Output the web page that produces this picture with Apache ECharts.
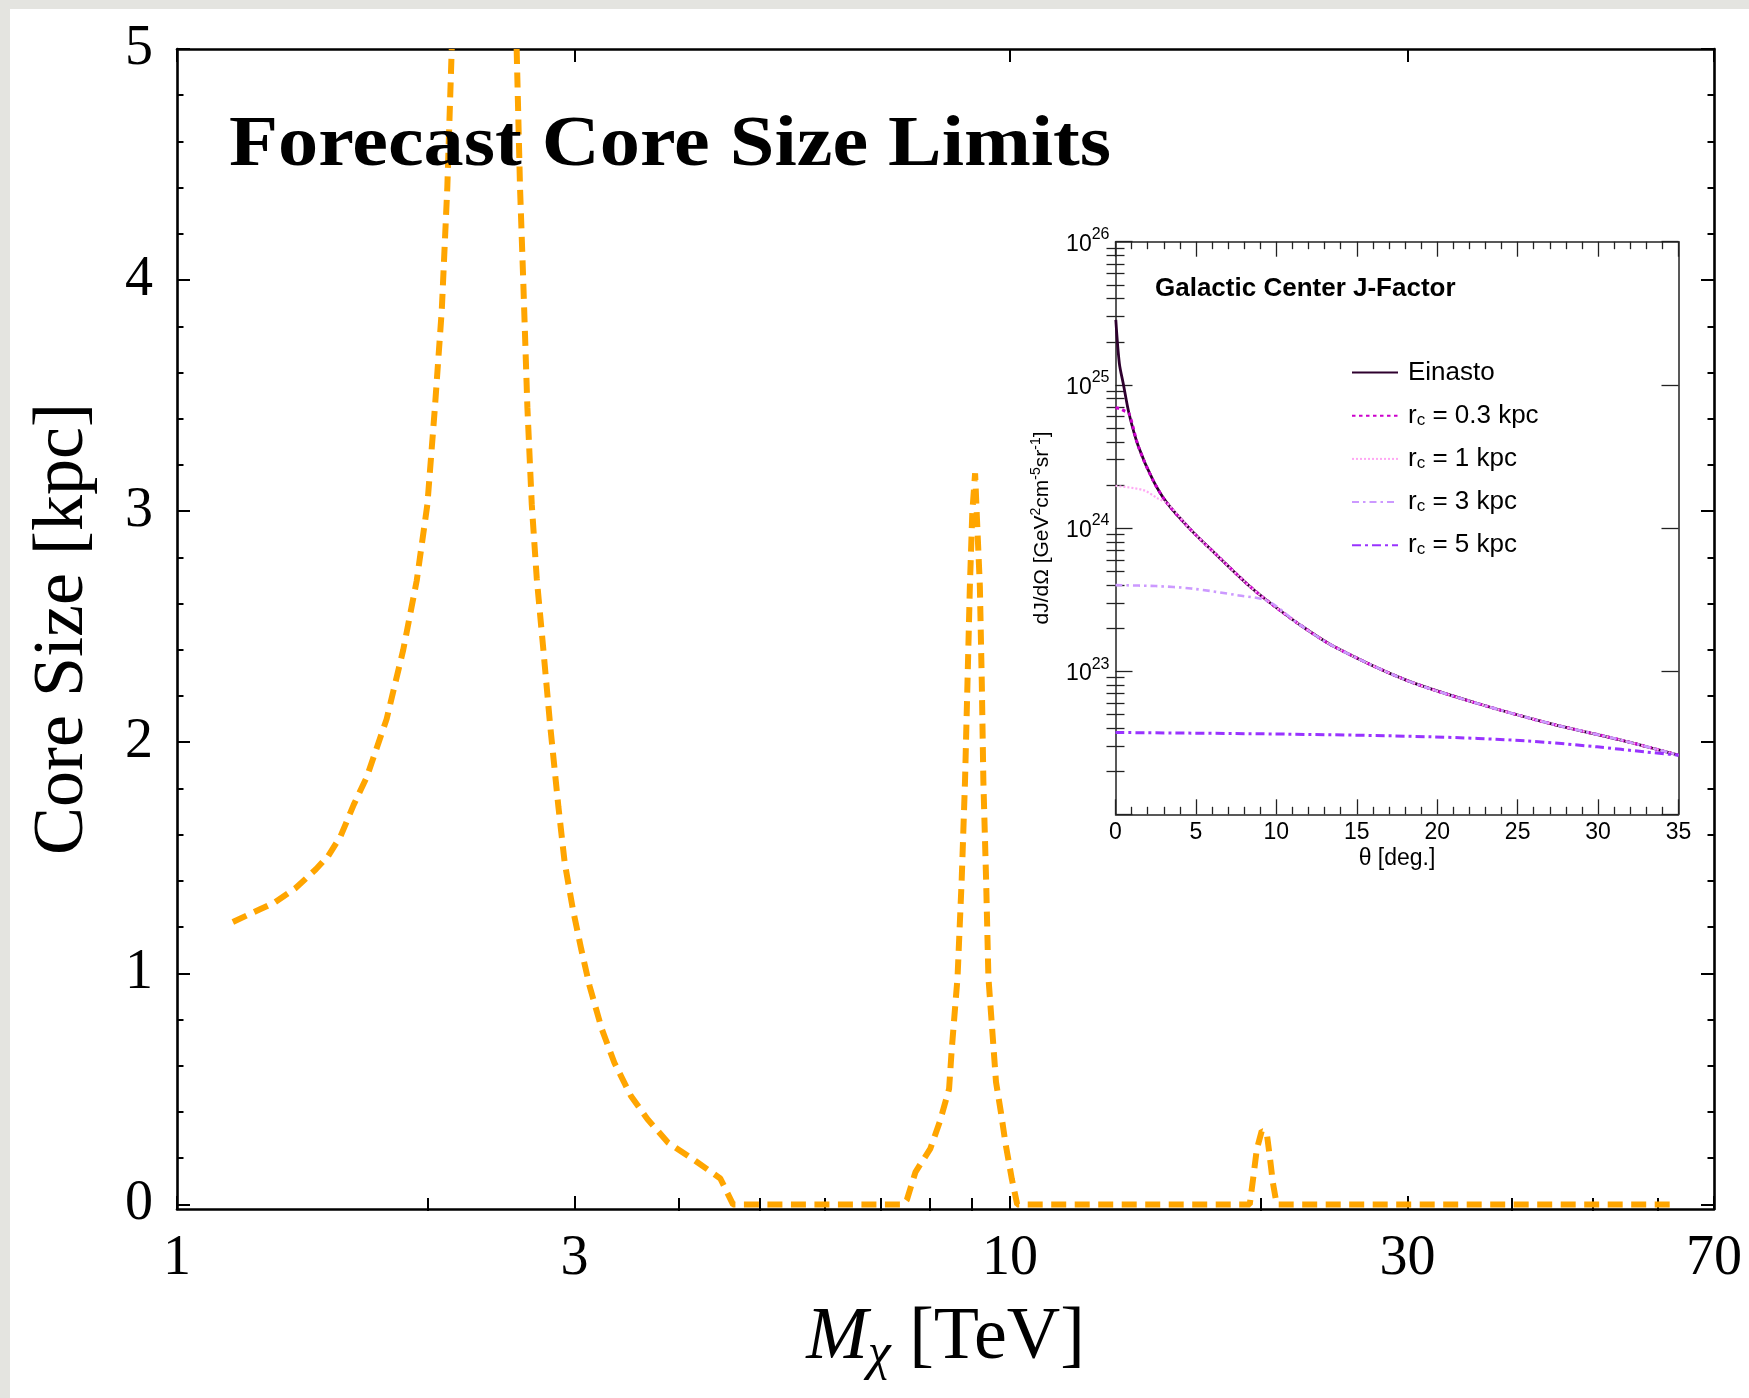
<!DOCTYPE html>
<html><head><meta charset="utf-8">
<script src="https://cdn.jsdelivr.net/npm/echarts@6/dist/echarts.min.js"></script>
<style>html,body{margin:0;padding:0;background:#e4e4e0}#c{width:1749px;height:1398px}</style>
</head><body><div id="c"></div>
<script>
// ---------- main panel: forecast core size limit ----------
const massTeV = [1.167, 1.258, 1.309, 1.386, 1.468, 1.519, 1.572, 1.63, 1.69, 1.785, 1.869, 1.940, 1.998, 2.040, 2.079, 2.111, 2.137, 2.35,
  2.557, 2.581, 2.605, 2.634, 2.666, 2.703, 2.753, 2.804, 2.870, 2.920, 2.987, 3.057, 3.128, 3.236, 3.35, 3.507, 3.672, 3.887, 4.165, 4.49, 4.65,
  7.45, 7.52, 7.70, 8.02, 8.24, 8.45, 8.51, 8.65, 8.75, 8.83, 8.89, 8.95, 9.01, 9.08, 9.12, 9.20, 9.25, 9.29, 9.36, 9.42, 9.62, 9.75, 9.88, 10.05, 10.2,
  19.4, 19.6, 19.78, 20.05, 20.33, 20.5, 20.68, 20.9, 63];
const coreSizeKpc = [1.222, 1.277, 1.306, 1.367, 1.45, 1.508, 1.594, 1.73, 1.85, 2.10, 2.40, 2.70, 3.03, 3.45, 3.87, 4.40, 5.0, '-',
  5.0, 4.40, 3.98, 3.45, 3.03, 2.71, 2.40, 2.08, 1.72, 1.479, 1.277, 1.104, 0.945, 0.758, 0.613, 0.469, 0.368, 0.267, 0.195, 0.112, 0,
  0, 0.02, 0.14, 0.24, 0.36, 0.50, 0.666, 0.983, 1.407, 1.83, 2.253, 2.677, 2.994, 3.164, 2.994, 2.677, 2.253, 1.83, 1.407, 0.983, 0.53, 0.40, 0.26, 0.11, 0,
  0, 0.123, 0.238, 0.317, 0.31, 0.209, 0.094, 0, 0];
const xTickLabels = [1, 3, 10, 30, 70];
const xMajorTicks = [1, 3, 10, 30, 70];
const xMinorTicks = [2, 4, 5, 6, 7, 8, 9, 20, 40, 50, 60];
const yTickLabels = [0, 1, 2, 3, 4, 5];
const yMinorTicks = [0.2, 0.4, 0.6, 0.8, 1.2, 1.4, 1.6, 1.8, 2.2, 2.4, 2.6, 2.8, 3.2, 3.4, 3.6, 3.8, 4.2, 4.4, 4.6, 4.8];

// ---------- inset: Galactic Center J-factor ----------
const thetaEinasto = [0.02, 0.24, 0.49, 0.84, 1.43, 2.33, 3.21, 4.70, 6.19, 8.27, 9.46, 11.38, 13.61, 18.07, 22.52, 26.97, 31.43, 35];
const jEinasto = [2.84e25, 1.41e25, 1.01e25, 6.31e24, 3.69e24, 2.16e24, 1.49e24, 9.66e23, 6.64e23, 3.98e23, 3.09e23, 2.14e23, 1.48e23, 8.65e22, 5.94e22, 4.32e22, 3.30e22, 2.59e22];
const thetaRc03 = [0, 0.3, 0.58, 0.84, 1.43, 2.33, 3.21, 4.70, 6.19, 8.27, 9.46, 11.38, 13.61, 18.07, 22.52, 26.97, 31.43, 35];
const jRc03 = [6.92e24, 6.80e24, 6.56e24, 6.31e24, 3.69e24, 2.16e24, 1.49e24, 9.66e23, 6.64e23, 3.98e23, 3.09e23, 2.14e23, 1.48e23, 8.65e22, 5.94e22, 4.32e22, 3.30e22, 2.59e22];
const thetaRc1 = [0, 1.73, 2.62, 3.21, 4.70, 6.19, 8.27, 9.46, 11.38, 13.61, 18.07, 22.52, 26.97, 31.43, 35];
const jRc1 = [1.97e24, 1.84e24, 1.61e24, 1.49e24, 9.66e23, 6.64e23, 3.98e23, 3.09e23, 2.14e23, 1.48e23, 8.65e22, 5.94e22, 4.32e22, 3.30e22, 2.59e22];
const thetaRc3 = [0, 2.5, 4.70, 7.67, 9.46, 11.38, 13.61, 18.07, 22.52, 26.97, 31.43, 35];
const jRc3 = [3.99e23, 3.93e23, 3.78e23, 3.38e23, 3.09e23, 2.14e23, 1.48e23, 8.65e22, 5.94e22, 4.32e22, 3.30e22, 2.59e22];
const thetaRc5 = [0, 10.64, 19.55, 25.5, 29.94, 32.9, 35];
const jRc5 = [3.73e22, 3.63e22, 3.48e22, 3.26e22, 2.96e22, 2.73e22, 2.59e22];
const insetYLabels = [1e23, 1e24, 1e25, 1e26];
const insetYMajor = [1e22, 1e23, 1e24, 1e25, 1e26];
const insetYMinor = [2e22, 3e22, 4e22, 5e22, 6e22, 7e22, 8e22, 9e22, 2e23, 3e23, 4e23, 5e23, 6e23, 7e23, 8e23, 9e23,
  2e24, 3e24, 4e24, 5e24, 6e24, 7e24, 8e24, 9e24, 2e25, 3e25, 4e25, 5e25, 6e25, 7e25, 8e25, 9e25];

const pairs = (xs, ys) => xs.map((x, i) => [x, ys[i]]);

const SERIF = 'Liberation Serif';
const SANS = 'Liberation Sans';
const mainLine = { show: true, onZero: false, lineStyle: { color: '#000', width: 2.6 } };
const mainTickStyle = { color: '#000', width: 2 };
const insLine = { show: true, onZero: false, lineStyle: { color: '#222', width: 1.5 } };
const insTickStyle = { color: '#222', width: 1.3 };
const off = { show: false };

function mainX(pos, ticks, len, labels, extra) {
  return Object.assign({
    type: 'log', logBase: 10, gridIndex: 0, min: 1, max: 70, position: pos,
    axisLine: labels !== null && len > 8 ? mainLine : off,
    axisTick: { show: true, inside: true, length: len, customValues: ticks, lineStyle: mainTickStyle },
    axisLabel: labels ? { show: true, customValues: labels, formatter: v => String(v), fontFamily: SERIF, fontSize: 56, color: '#000', margin: 22 } : off,
    splitLine: off, minorTick: off
  }, extra || {});
}
function mainY(pos, ticks, len, labels, extra) {
  return Object.assign({
    type: 'value', gridIndex: 0, min: -0.02, max: 5, position: pos,
    axisLine: len > 8 ? mainLine : off,
    axisTick: { show: true, inside: true, length: len, customValues: ticks, lineStyle: mainTickStyle },
    axisLabel: labels ? { show: true, customValues: labels, formatter: v => String(v), fontFamily: SERIF, fontSize: 56, color: '#000', margin: 24 } : off,
    splitLine: off
  }, extra || {});
}
function insX(pos, labels, extra) {
  return Object.assign({
    type: 'value', gridIndex: 1, min: 0, max: 35, interval: 5, position: pos,
    axisLine: insLine,
    axisTick: { show: true, inside: true, length: 15, lineStyle: insTickStyle },
    minorTick: { show: true, splitNumber: 5, length: 7.5, lineStyle: insTickStyle },
    axisLabel: labels ? { show: true, fontFamily: SANS, fontSize: 23, color: '#000', margin: 7 } : off,
    splitLine: off
  }, extra || {});
}
function insY(pos, ticks, len, labels, extra) {
  return Object.assign({
    type: 'log', logBase: 10, gridIndex: 1, min: 0.99999e22, max: 1.00001e26, position: pos,
    axisLine: len > 10 ? insLine : off,
    axisTick: { show: true, inside: true, length: len, customValues: ticks, lineStyle: insTickStyle },
    axisLabel: labels ? {
      show: true, customValues: labels, margin: 6, color: '#000',
      formatter: v => '{b|10}{s|' + Math.round(Math.log10(v)) + '}',
      rich: {
        b: { fontFamily: SANS, fontSize: 23, lineHeight: 30, color: '#000', padding: [5, 0, 0, 0] },
        s: { fontFamily: SANS, fontSize: 16, lineHeight: 16, verticalAlign: 'top', color: '#000' }
      }
    } : off,
    splitLine: off, minorTick: off
  }, extra || {});
}

const chart = echarts.init(document.getElementById('c'), null, { renderer: 'canvas' });
const legendNames = ['Einasto', 'r_c = 0.3 kpc', 'r_c = 1 kpc', 'r_c = 3 kpc', 'r_c = 5 kpc'];
const insetSeries = (name, xs, ys, color, width, type) => ({
  name, type: 'line', xAxisIndex: 4, yAxisIndex: 4, data: pairs(xs, ys),
  symbol: 'none', showSymbol: false, smooth: 0.3, clip: true, z: 5,
  lineStyle: { color, width, type, cap: 'butt' }, itemStyle: { color }
});

chart.setOption({
  animation: false,
  backgroundColor: '#e4e4e0',
  graphic: [
    { type: 'rect', z: -10, shape: { x: 10, y: 9, width: 1739, height: 1389 }, style: { fill: '#ffffff' } },
    { type: 'text', z: 10, x: 229, y: 146, scaleX: 1.115,
      style: { text: 'Forecast Core Size Limits', fontFamily: SERIF, fontWeight: 'bold', fontSize: 72, fill: '#000',
               align: 'left', verticalAlign: 'middle' } },
    { type: 'text', z: 10, x: 1155, y: 289,
      style: { text: 'Galactic Center J-Factor', fontFamily: SANS, fontWeight: 'bold', fontSize: 26, fill: '#000',
               align: 'left', verticalAlign: 'middle' } }
  ],
  grid: [
    { left: 177, right: 35, top: 49, bottom: 189, show: false },
    { left: 1115.5, right: 70.5, top: 241.7, bottom: 583.7, show: true, backgroundColor: '#fff', borderWidth: 0 }
  ],
  legend: {
    show: true, orient: 'vertical', left: 1351, top: 359.5, padding: 0, itemWidth: 46, itemHeight: 14, itemGap: 17.2,
    data: legendNames, selectedMode: false,
    itemStyle: { opacity: 0, borderWidth: 0 },
    formatter: n => n.startsWith('r_c') ? '{r|r}{c|c}{t|' + n.slice(3) + '}' : '{t|' + n + '}',
    textStyle: {
      fontFamily: SANS, fontSize: 26, color: '#000', padding: [0, 0, 0, 5],
      rich: {
        t: { fontFamily: SANS, fontSize: 26, lineHeight: 26, color: '#000' },
        r: { fontFamily: SANS, fontSize: 26, lineHeight: 26, color: '#000' },
        c: { fontFamily: SANS, fontSize: 17, lineHeight: 14, verticalAlign: 'bottom', color: '#000' }
      }
    }
  },
  xAxis: [
    mainX('bottom', xMajorTicks, 13, xTickLabels, {
      name: '{i|M}{s|χ}{n| [TeV]}', nameLocation: 'middle', nameGap: 88,
      nameTextStyle: {
        color: '#000', fontFamily: SERIF, fontSize: 74,
        rich: {
          i: { fontFamily: SERIF, fontStyle: 'italic', fontSize: 74, lineHeight: 84, color: '#000' },
          s: { fontFamily: SERIF, fontStyle: 'italic', fontSize: 52, lineHeight: 50, verticalAlign: 'bottom', color: '#000' },
          n: { fontFamily: SERIF, fontSize: 74, lineHeight: 84, color: '#000' }
        }
      }
    }),
    mainX('bottom', xMinorTicks, 6.5, null),
    mainX('top', xMajorTicks, 13, undefined),
    mainX('top', xMinorTicks, 6.5, null),
    insX('bottom', true, {
      name: 'θ [deg.]', nameLocation: 'middle', nameGap: 33,
      nameTextStyle: { fontFamily: SANS, fontSize: 23, color: '#000' }
    }),
    insX('top', false)
  ],
  yAxis: [
    mainY('left', yTickLabels, 13, yTickLabels, {
      name: 'Core Size [kpc]', nameLocation: 'middle', nameRotate: 90, nameGap: 78,
      nameTextStyle: { fontFamily: SERIF, fontSize: 72, color: '#000' }
    }),
    mainY('left', yMinorTicks, 6.5, null),
    mainY('right', yTickLabels, 13, null),
    mainY('right', yMinorTicks, 6.5, null),
    insY('left', insetYMajor, 17, insetYLabels, {
      name: '{n|dJ/dΩ [GeV}{s|2}{n|cm}{s|-5}{n|sr}{s|-1}{n|]}', nameLocation: 'middle', nameRotate: 90, nameGap: 60,
      nameTextStyle: {
        fontFamily: SANS, fontSize: 21, color: '#000',
        rich: {
          n: { fontFamily: SANS, fontSize: 21, lineHeight: 26, color: '#000' },
          s: { fontFamily: SANS, fontSize: 14, lineHeight: 14, verticalAlign: 'top', color: '#000' }
        }
      }
    }),
    insY('left', insetYMinor, 9, null),
    insY('right', insetYMajor, 17, null),
    insY('right', insetYMinor, 9, null)
  ],
  series: [
    {
      name: 'core size limit', type: 'line', xAxisIndex: 0, yAxisIndex: 0,
      data: pairs(massTeV, coreSizeKpc), connectNulls: false,
      symbol: 'none', showSymbol: false, clip: true, z: 3,
      lineStyle: { color: '#ffa500', width: 6, type: [15, 8.5], cap: 'butt' }
    },
    insetSeries('Einasto', thetaEinasto, jEinasto, '#2e002e', 2.8, 'solid'),
    insetSeries('r_c = 0.3 kpc', thetaRc03, jRc03, '#cc00cc', 3, [3.5, 3.5]),
    insetSeries('r_c = 1 kpc', thetaRc1, jRc1, '#ffa8f4', 2.2, [2, 2]),
    insetSeries('r_c = 3 kpc', thetaRc3, jRc3, '#cc99ff', 2.6, [7, 4, 2.5, 4]),
    insetSeries('r_c = 5 kpc', thetaRc5, jRc5, '#9933ff', 3, [9, 4, 3, 4])
  ]
});
</script>
</body></html>
